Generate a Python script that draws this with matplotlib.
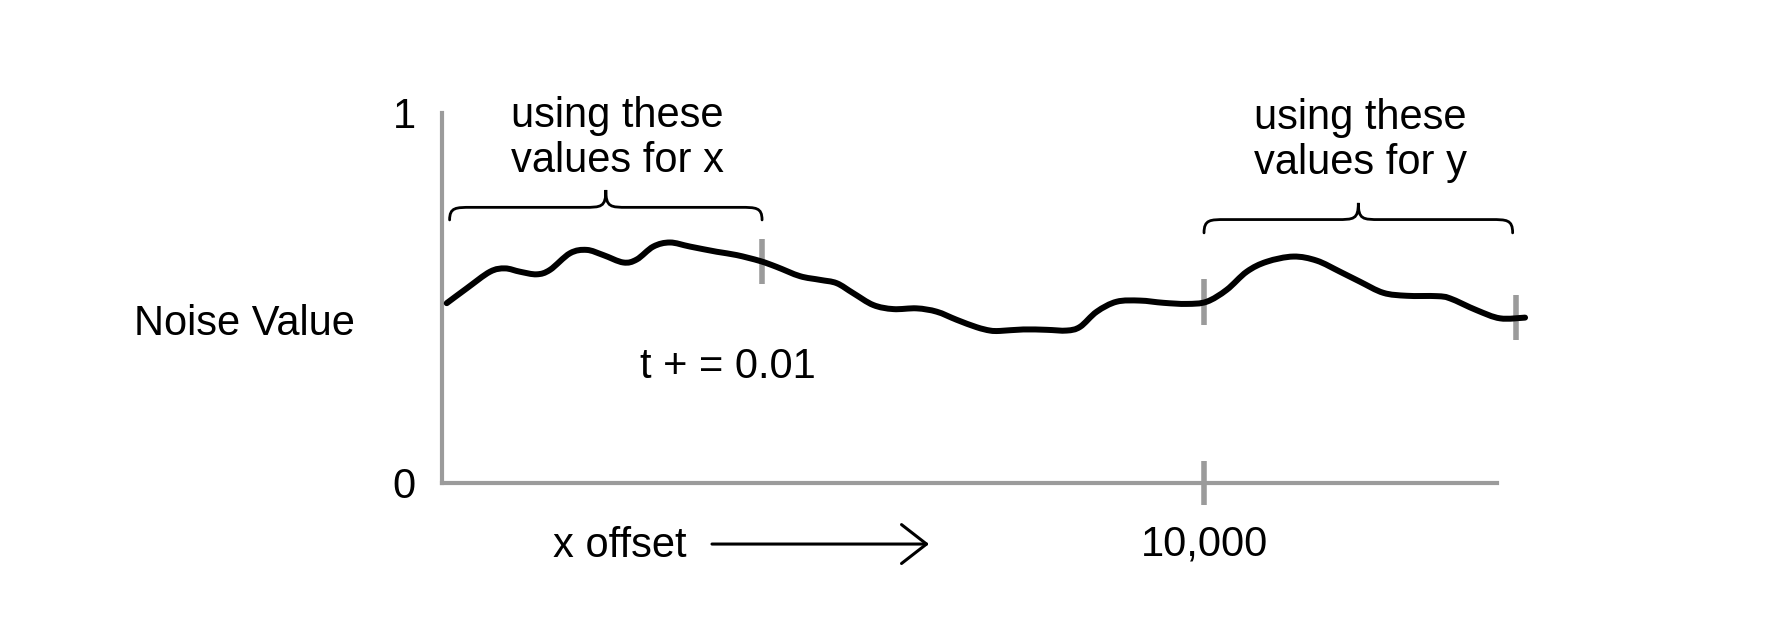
#Perlin noise sketch: one noise curve, two sampling windows
import numpy as np
import matplotlib
matplotlib.use("Agg")
import matplotlib.pyplot as plt
from matplotlib.path import Path
from matplotlib.patches import PathPatch

plt.rcParams['font.family'] = ['Liberation Sans', 'DejaVu Sans']

#Noise curve (x offset, noise value)
offset = [62, 324, 630, 827, 1024, 1243, 1417, 1680, 1899, 2117, 2379, 2555, 2773, 2992,
          3255, 3605, 3867, 4173, 4392, 4698, 4961, 5180, 5397, 5660, 5923, 6229, 6492,
          6755, 7017, 7192, 7323, 7628, 7935, 8198, 8373, 8592, 8854, 9160, 9466, 9773,
          10035, 10297, 10560, 10823, 11172, 11479, 11785, 12047, 12353, 12660, 13054,
          13228, 13578, 13885, 14213]
noise = [0.486, 0.526, 0.571, 0.580, 0.571, 0.564, 0.576, 0.621, 0.630, 0.616, 0.596,
         0.604, 0.639, 0.650, 0.639, 0.625, 0.616, 0.600, 0.584, 0.559, 0.549, 0.540,
         0.513, 0.481, 0.470, 0.472, 0.463, 0.441, 0.421, 0.412, 0.411, 0.415, 0.414,
         0.412, 0.422, 0.463, 0.490, 0.493, 0.487, 0.484, 0.490, 0.522, 0.571, 0.598,
         0.612, 0.601, 0.571, 0.544, 0.514, 0.506, 0.505, 0.499, 0.467, 0.445, 0.447]

#Sampling windows
x_window = [0, 4200]
y_window = [10000, 14100]
x_labels = ["using these", "values for x"]
y_labels = ["using these", "values for y"]
tick_pos = [10000]
tick_lab = ["10,000"]

GRAY = '#9b9b9b'
FS = 30

fig = plt.figure(figsize=(17.89, 6.33), dpi=100)
ax = fig.add_axes([442/1789, 150/633, 1098/1789, 370/633])
ax.set_xlim(0, 14409)
ax.set_ylim(0, 1)

#Axes (gray, sketchy)
for s in ['top', 'right']:
    ax.spines[s].set_visible(False)
for s in ['left', 'bottom']:
    ax.spines[s].set_color(GRAY)
    ax.spines[s].set_linewidth(3)
ax.spines['bottom'].set_bounds(0, 13850)
ax.set_xticks(tick_pos, labels=tick_lab)
ax.tick_params(axis='x', direction='inout', length=32, width=4, color=GRAY,
               pad=14, labelsize=FS)
ax.set_yticks([0, 1], labels=['0', '1'])
ax.tick_params(axis='y', length=0, pad=19, labelsize=FS)
for lab in ax.get_xticklabels():
    lab.set_x(lab.get_position()[0])

#Noise curve, drawn as a smooth (Catmull-Rom) path through the points
pts = np.column_stack([offset, noise])
ext = np.vstack([pts[0], pts, pts[-1]])
verts = [tuple(pts[0])]
codes = [Path.MOVETO]
for i in range(1, len(ext) - 2):
    p0, p1, p2, p3 = ext[i-1], ext[i], ext[i+1], ext[i+2]
    verts += [tuple(p1 + (p2 - p0)/6), tuple(p2 - (p3 - p1)/6), tuple(p2)]
    codes += [Path.CURVE4]*3
ax.add_patch(PathPatch(Path(verts, codes), fill=False, lw=4.3, color='black',
                       joinstyle='round', capstyle='round', clip_on=False, zorder=3))

#Gray marks where the windows end on the curve
for xm in [x_window[1], y_window[0], y_window[1]]:
    yc = np.interp(xm, offset, noise)
    ax.vlines(xm, yc - 0.061, yc + 0.061, color=GRAY, lw=4, clip_on=False, zorder=2)

#Curly braces
def brace(x0, x1, ye, yb, yt):
    L = x1 - x0
    xc = (x0 + x1) / 2
    verts = [(x0, ye),
             (x0, yb), (x0 + 0.02*L, yb), (x0 + 0.07*L, yb),
             (xc - 0.07*L, yb),
             (xc - 0.015*L, yb), (xc, yb), (xc, yt),
             (xc, yb), (xc + 0.015*L, yb), (xc + 0.07*L, yb),
             (x1 - 0.07*L, yb),
             (x1 - 0.02*L, yb), (x1, yb), (x1, ye)]
    codes = [Path.MOVETO] + [Path.CURVE4]*3 + [Path.LINETO] + [Path.CURVE4]*6 \
        + [Path.LINETO] + [Path.CURVE4]*3
    ax.add_patch(PathPatch(Path(verts, codes), fill=False, lw=2, color='black',
                           capstyle='round', clip_on=False))

brace(x_window[0] + 100, x_window[1], 0.711, 0.745, 0.792)
brace(y_window[0], y_window[1] - 50, 0.676, 0.712, 0.757)

#Window labels
ax.text(2297, 0.963, x_labels[0], ha='center', va='baseline', fontsize=FS)
ax.text(2297, 0.841, x_labels[1], ha='center', va='baseline', fontsize=FS)
ax.text(12047, 0.958, y_labels[0], ha='center', va='baseline', fontsize=FS)
ax.text(12047, 0.836, y_labels[1], ha='center', va='baseline', fontsize=FS)

ax.text(3747, 0.283, "t + = 0.01", ha='center', va='baseline', fontsize=FS)
ax.text(-2598, 0.40, "Noise Value", ha='center', va='baseline', fontsize=FS)

#x offset arrow
ax.text(2336, -0.2, "x offset", ha='center', va='baseline', fontsize=FS)
ax.annotate('', xy=(6391, -0.165), xytext=(3543, -0.165), annotation_clip=False,
            arrowprops=dict(arrowstyle='->,head_length=0.9,head_width=0.7',
                            lw=2.2, color='black', mutation_scale=20,
                            shrinkA=0, shrinkB=0))

fig.savefig('out.png', dpi=100)
